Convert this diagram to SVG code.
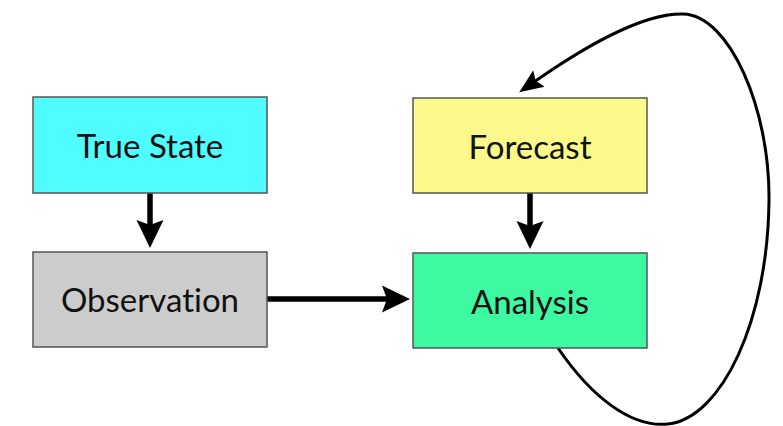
<svg xmlns="http://www.w3.org/2000/svg" width="783" height="426" viewBox="0 0 783 426">
<defs>
<style>
.box{stroke:#555;stroke-width:1.5}
.lbl{font-family:Lato,"Open Sans","Liberation Sans",sans-serif;font-size:33px;fill:#111;text-anchor:middle;font-variant-ligatures:none}
.thick{stroke:#000;stroke-width:5.5;fill:none}
.thin{stroke:#000;stroke-width:3;fill:none}
</style>
<marker id="ah" markerUnits="userSpaceOnUse" markerWidth="32" markerHeight="32" refX="8" refY="15" orient="auto">
<path d="M0,1.5 L28,15 L0,28.5 L5,15 Z" fill="#000"/>
</marker>
<marker id="ah2" markerUnits="userSpaceOnUse" markerWidth="30" markerHeight="30" refX="6" refY="12" orient="auto">
<path d="M0,2 L24,12 L0,22 L4,12 Z" fill="#000"/>
</marker>
</defs>
<g id="connectors">
<line class="thick" x1="150" y1="193" x2="150" y2="228" marker-end="url(#ah)"/>
<line class="thick" x1="530" y1="193" x2="530" y2="229" marker-end="url(#ah)"/>
<line class="thick" x1="267" y1="299" x2="390" y2="299" marker-end="url(#ah)"/>
<path class="thin" d="M558,348 C590,395 630,428 668,424 C722,418 768,320 769,200 C770,110 730,15 683,14 C640,13 580,50 534,82" marker-end="url(#ah2)"/>
</g>
<g id="true-state">
<rect class="box" x="33" y="97" width="234" height="96" fill="#4ffcff"/>
<text class="lbl" x="150" y="158">True State</text>
</g>
<g id="observation">
<rect class="box" x="33" y="252" width="234" height="95" fill="#cccccc"/>
<text class="lbl" x="150" y="312">Observation</text>
</g>
<g id="forecast">
<rect class="box" x="413" y="98" width="234" height="95" fill="#fbf98a"/>
<text class="lbl" x="530" y="159">Forecast</text>
</g>
<g id="analysis">
<rect class="box" x="413" y="253" width="234" height="95" fill="#3df9a1"/>
<text class="lbl" x="530" y="314">Analysis</text>
</g>
</svg>
